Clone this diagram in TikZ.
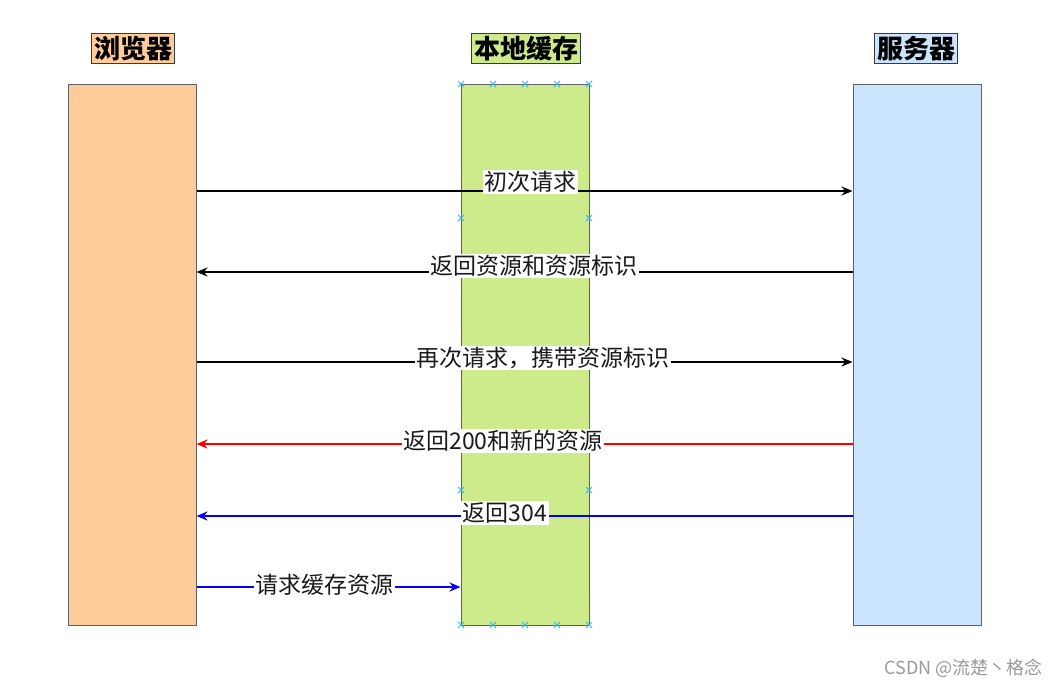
\documentclass[tikz,border=0pt]{standalone}
\usepackage{fontspec}
\setmainfont{Noto Sans CJK SC}
\usetikzlibrary{arrows.meta}
\definecolor{cOrange}{HTML}{FFCC99}
\definecolor{cGreen}{HTML}{CDEB8B}
\definecolor{cBlue}{HTML}{CCE5FF}
\definecolor{cStroke}{HTML}{36393D}
\definecolor{cHandle}{HTML}{29B6F2}
\definecolor{cText}{HTML}{1A1A1A}
\tikzset{
  lane/.style={draw=cStroke!80, line width=1pt, minimum width=128pt, minimum height=541pt, inner sep=0pt},
  title/.style={draw=cStroke, line width=1pt, font=\fontsize{26}{29}\selectfont\bfseries, inner sep=2.5pt, text=black},
  msg/.style={line width=2pt, -{Stealth[length=11pt,width=9pt]}},
  lbl/.style={fill=white, inner sep=1.5pt, font=\fontsize{23}{26}\selectfont, text=cText},
  handle/.style={cHandle, line width=0.9pt}
}
\newcommand{\hmark}[2]{\draw[handle] (#1-3,#2-3) -- (#1+3,#2+3) (#1-3,#2+3) -- (#1+3,#2-3);}
\begin{document}
\begin{tikzpicture}[x=1pt,y=-1pt]
\useasboundingbox (0,0) rectangle (1059,688);
% lanes
\node[lane, fill=cOrange] (browser) at (132,354.5) {};
\node[lane, fill=cGreen] (cache) at (525,354.5) {};
\node[lane, fill=cBlue] (server) at (917,354.5) {};
% titles
\node[title, fill=cOrange] (tb) at (133,48.5) {浏览器};
\node[title, fill=cGreen] (tc) at (526,48.5) {本地缓存};
\node[title, fill=cBlue] (ts) at (916,48.5) {服务器};
% y levels
\coordinate (y1) at (0,191);
\coordinate (y2) at (0,272);
\coordinate (y3) at (0,362);
\coordinate (y4) at (0,444);
\coordinate (y5) at (0,516);
\coordinate (y6) at (0,587);
% messages
\draw[msg, black] (browser.east |- y1) -- (server.west |- y1);
\node[lbl] (l1) at (530,182) {初次请求};
\draw[msg, black] (server.west |- y2) -- (browser.east |- y2);
\node[lbl] (l2) at (534,266) {返回资源和资源标识};
\draw[msg, black] (browser.east |- y3) -- (server.west |- y3);
\node[lbl] (l3) at (543,358) {再次请求，携带资源标识};
\draw[msg, red] (server.west |- y4) -- (browser.east |- y4);
\node[lbl] (l4) at (503,441) {返回200和新的资源};
\draw[msg, blue] (server.west |- y5) -- (browser.east |- y5);
\node[lbl] (l5) at (505,513) {返回304};
\draw[msg, blue] (browser.east |- y6) -- (cache.west |- y6);
\node[lbl] (l6) at (324,585) {请求缓存资源};
% selection handles
\foreach \hx in {461,493,525,557,589} {\hmark{\hx}{84}\hmark{\hx}{625}}
\foreach \hx in {461,589} {\hmark{\hx}{218}\hmark{\hx}{490}}
% watermark
\node[text=black!40, font=\fontsize{18}{20}\selectfont, anchor=east, inner sep=0pt] (wm) at (1043,668) {CSDN @流楚丶格念};
\end{tikzpicture}
\end{document}
